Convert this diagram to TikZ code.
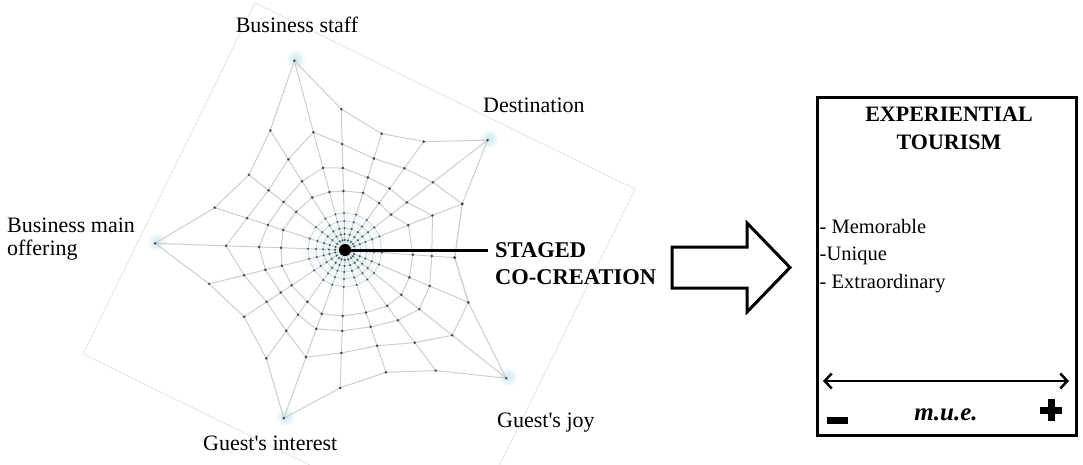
\documentclass[tikz,border=0pt]{standalone}
\usepackage{fontspec}
\setmainfont{Liberation Serif}[Ligatures=TeXOff]
\usetikzlibrary{calc,arrows.meta}
\definecolor{threadgray}{RGB}{208,204,204}
\definecolor{knotgray}{RGB}{72,76,76}
\definecolor{hubteal}{RGB}{45,100,100}
\definecolor{glowblue}{RGB}{200,230,238}
\definecolor{framegray}{RGB}{212,212,212}
\tikzset{
  thread/.style={draw=threadgray, line width=1pt},
  hubthread/.style={draw=threadgray!80!glowblue, line width=0.7pt},
  knot/.style={fill=knotgray},
  hubknot/.style={fill=hubteal},
  webtext/.style={font=\fontsize{22}{24}\selectfont, inner sep=0pt},
  headtext/.style={font=\bfseries\fontsize{22}{24}\selectfont, inner sep=0pt},
  stagetext/.style={font=\bfseries\fontsize{22.5}{24}\selectfont, inner sep=0pt},
  listtext/.style={font=\fontsize{20.5}{24}\selectfont, inner sep=0pt},
  thickline/.style={line width=3pt, line join=miter},
}
\begin{document}
\begin{tikzpicture}[x=1pt,y=-1pt]
\useasboundingbox (0,0) rectangle (1083,465);
\coordinate (C) at (345,250);

% faint tilted frame behind the web
\begin{scope}
  \clip (0,0) rectangle (1083,465);
  \draw[framegray, line width=0.45pt] (255,3) -- (635,189) -- (463,540) -- (83,354) -- cycle;
\end{scope}

% soft tint around the hub
\shade[inner color=glowblue!40, outer color=white] (C) circle (48);

% web knots: 20 radii, each with 5 hub rings, 3 outer rings and the rim
\foreach [count=\i] \ang/\ra/\rb/\rc/\rB in {
  21.5/68/94/126/126, 37.6/58/78/111/180, 54/58/76/101/134, 72.5/60/76/96/122,
  91.5/59/82/106/141, 105/60/85/122/196, 122/62/81/107/141, 142/62/78/97/122,
  162/65/81/103/137, 178/64/86/119/190, 194/65/82/104/140, 213.5/64/77/94/121,
  234/64/80/100/134, 250/68/84/114/179, 268/66/81/103/138, 288.5/66/81/101/129,
  307/70/88/116/151, 321.5/72/95/137/206, 337/70/92/134/134, 356/68/87/110/110}
{
  \foreach [count=\k] \rad in {10,16,22,29,37,\ra,\rb,\rc,\rB}
    \coordinate (p\i-\k) at ($(C)+(-\ang:\rad)$);
}

% glow at the five anchor points
\foreach \i in {2,6,10,14,18}
  \shade[inner color=glowblue, outer color=white] ($(p\i-9)+(1.5,-1.5)$) circle (10);

% threads
\foreach \i in {1,...,20} {
  \pgfmathtruncatemacro\nx{mod(\i,20)+1}
  \draw[thread] (C) -- (p\i-9);
  \foreach \k in {1,...,5} \draw[hubthread] (p\i-\k) -- (p\nx-\k);
  \foreach \k in {6,...,9} \draw[thread] (p\i-\k) -- (p\nx-\k);
}

% knots
\foreach \i in {1,...,20} {
  \foreach \k in {1,...,5} \fill[hubknot] (p\i-\k) circle (1.15);
  \foreach \k in {6,...,9} \fill[knot] (p\i-\k) circle (1.45);
}

% hub and leader
\fill (C) circle (6);
\coordinate (lead) at (488,250);
\draw[line width=3pt] (C) -- (lead);

% web labels
\node[webtext, anchor=base] (staff) at (297,33) {Business staff};
\node[webtext, anchor=base west] (dest) at (483,113) {Destination};
\node[webtext, anchor=base west] (offer1) at (7,232) {Business main};
\node[webtext, anchor=base west] (offer2) at (7,255) {offering};
\node[webtext, anchor=base west] (joy) at (497,427) {Guest's joy};
\node[webtext, anchor=base west] (interest) at (203,450) {Guest's interest};

\node[stagetext, anchor=base west] (staged) at (495,257) {STAGED};
\node[stagetext, anchor=base west] (cocreation) at (495,284) {CO-CREATION};

% block arrow
\draw[thickline] (672,247) -- (747,247) -- (747,223) -- (790,267.5) -- (747,312) -- (747,288) -- (672,288) -- cycle;

% result box
\node[draw, line width=3pt, inner sep=0pt, minimum width=258.5pt, minimum height=337.5pt] (box) at (946.75,266.75) {};
\node[headtext, anchor=base] (exp) at (949,121.5) {EXPERIENTIAL};
\node[headtext, anchor=base] (tour) at (949,149.5) {TOURISM};
\node[listtext, anchor=base west] (mem) at (819.5,233) {- Memorable};
\node[listtext, anchor=base west] (uni) at (819.5,260.5) {-Unique};
\node[listtext, anchor=base west] (ext) at (819.5,288) {- Extraordinary};

\coordinate (scaleL) at (823,381);
\coordinate (scaleR) at (1069,381);
\draw[line width=2.5pt, {Straight Barb[length=7pt,width=15pt]}-{Straight Barb[length=7pt,width=15pt]}] (scaleL) -- (scaleR);
\fill (827,416.5) rectangle (848,423.5);
\fill (1040,406.5) rectangle (1062,413.5);
\fill (1047.5,399) rectangle (1054.5,421);
\node[font=\bfseries\itshape\fontsize{25}{25}\selectfont, inner sep=0pt, anchor=base] (mue) at (946,420) {m.u.e.};
\end{tikzpicture}
\end{document}
